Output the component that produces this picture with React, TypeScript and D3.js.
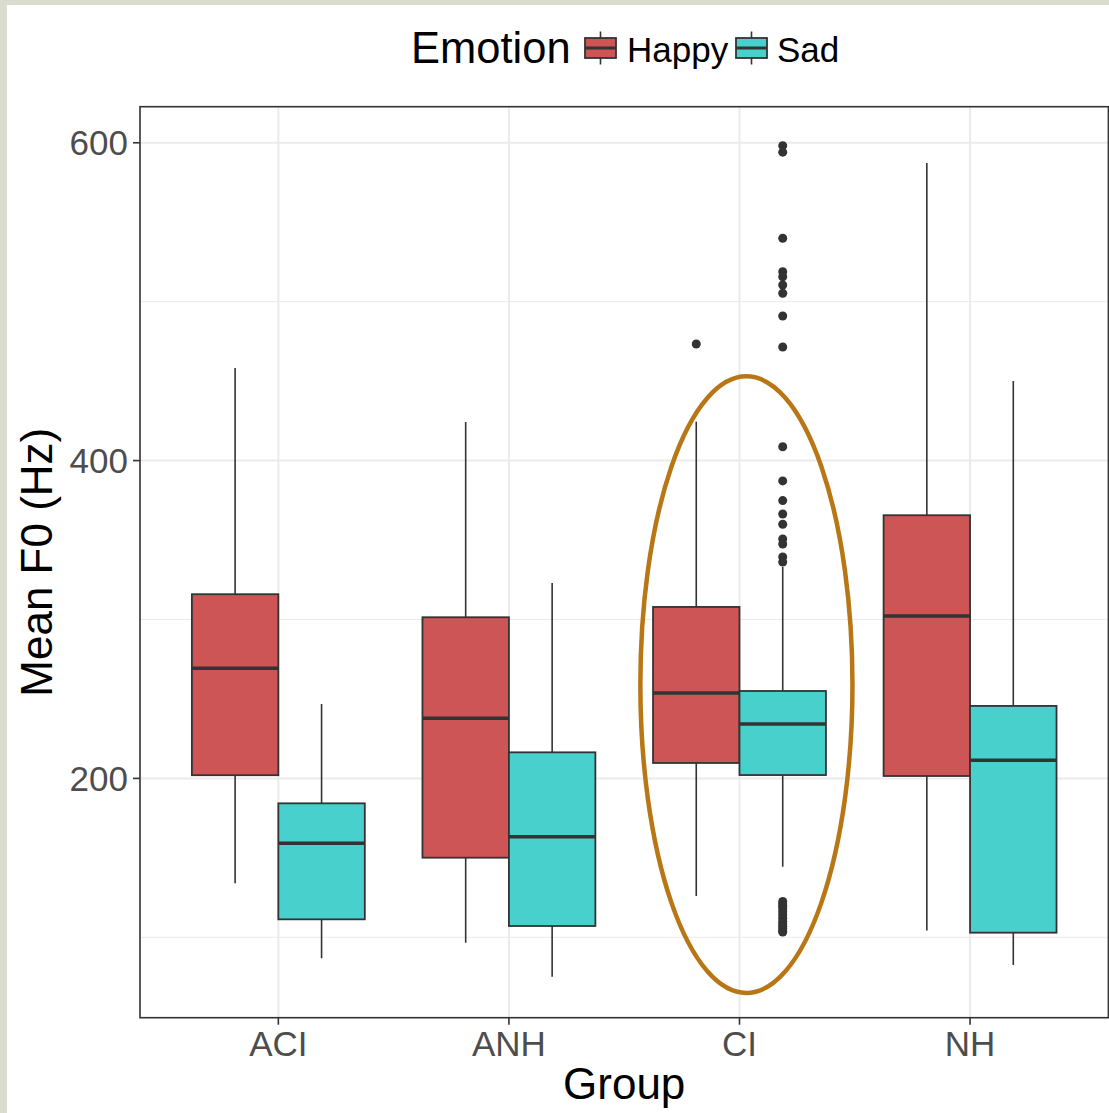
import React from "react";
import * as d3 from "d3";

// Categories and series
const groups = ["ACI", "ANH", "CI", "NH"];
const emotions = ["Happy", "Sad"];

// Five-number summaries (lower whisker, Q1, median, Q3, upper whisker), in Hz
const happyLower = [134, 96.6, 126, 104.2];
const happyQ1 = [202, 150.1, 209.7, 201.5];
const happyMedian = [269.3, 237.8, 253.7, 302.2];
const happyQ3 = [315.9, 301.4, 307.9, 365.6];
const happyUpper = [458.3, 424.3, 424.5, 587.3];

const sadLower = [86.8, 75.2, 144.4, 82.6];
const sadQ1 = [111.3, 107.1, 202.1, 102.9];
const sadMedian = [159.2, 163.3, 234.2, 211.4];
const sadQ3 = [184.3, 216.4, 255, 245.6];
const sadUpper = [246.8, 323, 333.1, 450.1];

// Outlying observations
const happyOutliers = [{ group: "CI", value: 473.4 }];
const sadOutlierValuesCI = [
  598.2, 594.1, 539.9, 518.9, 515.7, 510.5, 505.3, 491.0, 471.5, 408.7,
  387.2, 374.8, 366.4, 359.9, 350.7, 347.5, 339.4, 336.2,
  122.5, 121, 119.5, 118, 116, 114, 112, 110, 108.5, 107, 105.5, 104, 103.3,
];

// Axis ticks
const yMajorTicks = [200, 400, 600];
const yMinorTicks = [100, 300, 500];
const yLimits = [49.4, 622.7];

// Highlight ring around the CI group (value range and width in category units)
const highlight = { group: "CI", low: 65, high: 453, halfWidth: 0.46, shift: 0.03 };

const colors: Record<string, string> = { Happy: "#CD5555", Sad: "#48D1CC" };

const W = 1109;
const H = 1113;
const panel = { left: 140, right: 1108.4, top: 106.7, bottom: 1017.7 };
const FONT = "'Liberation Sans', Arial, Helvetica, sans-serif";

type Box = { group: string; emotion: string; lower: number; q1: number; median: number; q3: number; upper: number };

const boxes: Box[] = [];
groups.forEach((g, i) => {
  boxes.push({ group: g, emotion: "Happy", lower: happyLower[i], q1: happyQ1[i], median: happyMedian[i], q3: happyQ3[i], upper: happyUpper[i] });
  boxes.push({ group: g, emotion: "Sad", lower: sadLower[i], q1: sadQ1[i], median: sadMedian[i], q3: sadQ3[i], upper: sadUpper[i] });
});

const outliers = [
  ...happyOutliers.map((o) => ({ ...o, emotion: "Happy" })),
  ...sadOutlierValuesCI.map((v) => ({ group: "CI", value: v, emotion: "Sad" })),
];

export default function App() {
  const x = d3.scalePoint<string>().domain(groups).range([panel.left, panel.right]).padding(0.6);
  const step = x.step();
  const dodge = d3.scaleBand<string>().domain(emotions).range([-0.375 * step, 0.375 * step]).paddingInner(0);
  const y = d3.scaleLinear().domain(yLimits).range([panel.bottom, panel.top]);
  const bw = dodge.bandwidth();

  const stroke = "#333333";
  const gridColor = "#ebebeb";

  const hx = (x(highlight.group) as number) + highlight.shift * step;
  const hyTop = y(highlight.high);
  const hyBot = y(highlight.low);

  // legend layout
  const legendY = 48;
  const keys = [
    { name: "Happy", keyX: 585, textX: 627 },
    { name: "Sad", keyX: 736, textX: 777 },
  ];

  return (
    <svg width={W} height={H} style={{ position: "absolute", left: 0, top: 0 }} fontFamily={FONT}>
      <rect x={0} y={0} width={W} height={H} fill="#dbdcd0" />
      <rect x={7} y={5} width={W - 7} height={H - 5} fill="#ffffff" />

      {/* grid */}
      <g>
        {yMinorTicks.map((t) => (
          <line key={"mn" + t} x1={panel.left} x2={panel.right} y1={y(t)} y2={y(t)} stroke={gridColor} strokeWidth={1} />
        ))}
        {yMajorTicks.map((t) => (
          <line key={"mj" + t} x1={panel.left} x2={panel.right} y1={y(t)} y2={y(t)} stroke={gridColor} strokeWidth={2} />
        ))}
        {groups.map((g) => (
          <line key={"gx" + g} x1={x(g)} x2={x(g)} y1={panel.top} y2={panel.bottom} stroke={gridColor} strokeWidth={2} />
        ))}
      </g>

      {/* boxes */}
      <g>
        {boxes.map((b) => {
          const cx = (x(b.group) as number) + (dodge(b.emotion) as number) + bw / 2;
          const x0 = cx - bw / 2;
          return (
            <g key={b.group + b.emotion}>
              <line x1={cx} x2={cx} y1={y(b.upper)} y2={y(b.q3)} stroke={stroke} strokeWidth={1.6} />
              <line x1={cx} x2={cx} y1={y(b.q1)} y2={y(b.lower)} stroke={stroke} strokeWidth={1.6} />
              <rect x={x0} y={y(b.q3)} width={bw} height={y(b.q1) - y(b.q3)} fill={colors[b.emotion]} stroke={stroke} strokeWidth={1.8} />
              <line x1={x0} x2={x0 + bw} y1={y(b.median)} y2={y(b.median)} stroke={stroke} strokeWidth={3.4} />
            </g>
          );
        })}
      </g>

      {/* outliers */}
      <g>
        {outliers.map((o, i) => {
          const cx = (x(o.group) as number) + (dodge(o.emotion) as number) + bw / 2;
          return <circle key={i} cx={cx} cy={y(o.value)} r={4.5} fill={stroke} />;
        })}
      </g>

      {/* panel border */}
      <rect x={panel.left} y={panel.top} width={panel.right - panel.left} height={panel.bottom - panel.top} fill="none" stroke={stroke} strokeWidth={1.6} />

      {/* y axis */}
      <g>
        {yMajorTicks.map((t) => (
          <g key={"yt" + t}>
            <line x1={panel.left - 7} x2={panel.left} y1={y(t)} y2={y(t)} stroke={stroke} strokeWidth={1.6} />
            <text x={128} y={y(t)} dy="0.36em" textAnchor="end" fontSize={35} fill="#4d4d4d">
              {t}
            </text>
          </g>
        ))}
      </g>

      {/* x axis */}
      <g>
        {groups.map((g) => (
          <g key={"xt" + g}>
            <line x1={x(g)} x2={x(g)} y1={panel.bottom} y2={panel.bottom + 7} stroke={stroke} strokeWidth={1.6} />
            <text x={x(g)} y={1056} textAnchor="middle" fontSize={35} fill="#4d4d4d">
              {g}
            </text>
          </g>
        ))}
      </g>

      {/* axis titles */}
      <text x={(panel.left + panel.right) / 2} y={1099} textAnchor="middle" fontSize={44} fill="#000">
        Group
      </text>
      <text transform={`translate(52, ${(panel.top + panel.bottom) / 2}) rotate(-90)`} textAnchor="middle" fontSize={44} fill="#000">
        Mean F0 (Hz)
      </text>

      {/* legend */}
      <g>
        <text x={411} y={63} fontSize={43.5} fill="#000">
          Emotion
        </text>
        {keys.map((k) => {
          const kw = 31;
          const kc = k.keyX + kw / 2;
          return (
            <g key={k.name}>
              <line x1={kc} x2={kc} y1={legendY - 16.5} y2={legendY + 16.5} stroke={stroke} strokeWidth={1.6} />
              <rect x={k.keyX} y={legendY - 10} width={kw} height={20} fill={colors[k.name]} stroke={stroke} strokeWidth={1.8} />
              <line x1={k.keyX} x2={k.keyX + kw} y1={legendY} y2={legendY} stroke={stroke} strokeWidth={3} />
              <text x={k.textX} y={61.5} fontSize={35} fill="#000">
                {k.name}
              </text>
            </g>
          );
        })}
      </g>

      {/* highlight ring */}
      <ellipse
        cx={hx}
        cy={(hyTop + hyBot) / 2}
        rx={highlight.halfWidth * step}
        ry={(hyBot - hyTop) / 2}
        fill="none"
        stroke="#b87614"
        strokeWidth={4.5}
      />
    </svg>
  );
}
